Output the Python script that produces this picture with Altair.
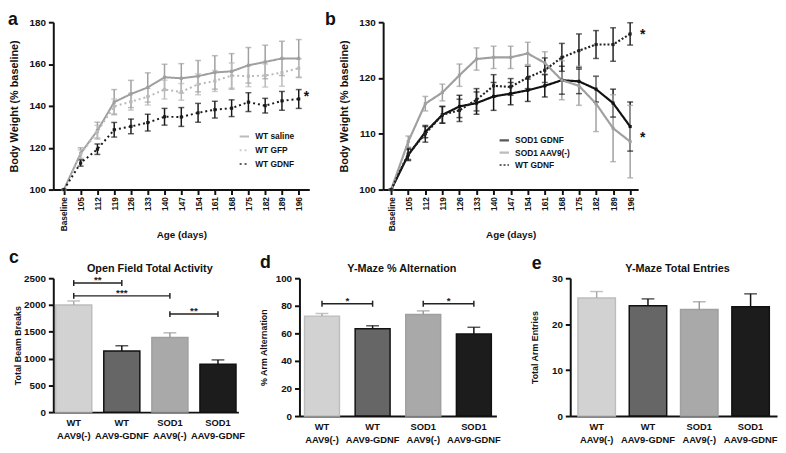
import altair as alt
import pandas as pd

FONT = "Liberation Sans"

# ---------------- data ----------------
ages = ["Baseline", "105", "112", "119", "126", "133", "140", "147",
        "154", "161", "168", "175", "182", "189", "196"]

# panel a
a_names = ["WT saline", "WT GFP", "WT GDNF"]
a_saline = [100, 117.3, 128.2, 141.8, 145.7, 148.8, 153.7, 153.2, 154.2, 156.0, 156.5, 159.4, 161.0, 162.7, 162.7]
a_saline_err = [0, 2.7, 4, 6, 6.5, 7, 6.2, 7, 7.5, 8, 8.5, 8.5, 8, 8.2, 9.0]
a_gfp = [100, 117.0, 127.7, 139.8, 142.0, 144.4, 147.8, 146.7, 150.3, 151.9, 154.5, 154.2, 154.5, 155.9, 158.0]
a_gfp_err = [0, 2, 3, 3.5, 4, 4, 4.5, 4, 5, 5, 6, 5, 5.5, 6.5, 4.5]
a_gdnf = [100, 112.7, 119.3, 128.6, 130.2, 132.0, 134.8, 134.7, 136.7, 138.2, 138.9, 141.8, 140.1, 142.4, 143.3]
a_gdnf_err = [0, 1.5, 2.5, 3.5, 3.5, 4, 4, 4.5, 4.5, 4, 4, 4.5, 3.5, 4.5, 4.5]
a_stars = [145.5]

# panel b
b_names = ["SOD1 GDNF", "SOD1 AAV9(-)", "WT GDNF"]
b_sod1_gdnf = [100, 106.2, 110.3, 113.4, 114.9, 115.5, 116.7, 117.2, 117.8, 118.6, 119.6, 119.4, 118.0, 115.5, 111.3]
b_sod1_gdnf_err = [0, 1.0, 1.0, 1.5, 2.0, 2.0, 2.5, 2.0, 2.0, 2.0, 2.5, 2.2, 2.3, 2.5, 4.4]
b_sod1_aav = [100, 108.6, 115.4, 117.4, 120.5, 123.4, 123.7, 123.7, 124.4, 122.7, 119.6, 118.6, 115.4, 111.0, 108.6]
b_sod1_aav_err = [0, 1.0, 1.3, 1.5, 2.0, 2.0, 2.0, 2.0, 2.0, 2.0, 3.5, 3.5, 5.0, 6.0, 6.5]
b_wt_gdnf = [100, 106.4, 110.0, 113.4, 114.2, 116.1, 118.6, 118.4, 120.1, 121.4, 123.7, 124.9, 126.0, 126.0, 127.9]
b_wt_gdnf_err = [0, 1.0, 1.5, 1.5, 2.0, 2.0, 2.0, 1.5, 2.0, 2.2, 2.5, 3.0, 2.5, 3.0, 2.0]
b_stars = [128.2, 109.7]

# bar panels
groups = ["WT AAV9(-)", "WT AAV9-GDNF", "SOD1 AAV9(-)", "SOD1 AAV9-GDNF"]
c_vals = [2000, 1142, 1395, 895]
c_errs = [75, 95, 85, 80]
c_br_from = ["WT AAV9(-)", "WT AAV9(-)", "SOD1 AAV9(-)"]
c_br_to = ["WT AAV9-GDNF", "SOD1 AAV9(-)", "SOD1 AAV9-GDNF"]
c_br_y = [2410, 2170, 1830]
c_br_lbl = ["**", "***", "**"]

d_vals = [72.5, 63.4, 73.7, 59.6]
d_errs = [1.9, 2.1, 2.6, 4.8]
d_br_from = ["WT AAV9(-)", "SOD1 AAV9(-)"]
d_br_to = ["WT AAV9-GDNF", "SOD1 AAV9-GDNF"]
d_br_y = [81.5, 81.5]
d_br_lbl = ["*", "*"]

e_vals = [25.7, 24.0, 23.2, 23.8]
e_errs = [1.4, 1.5, 1.7, 2.8]

# ---------------- styles ----------------
bar_fill = ["#d2d2d2", "#666666", "#a9a9a9", "#1c1c1c"]
bar_stroke = ["#bdbdbd", "#111111", "#a0a0a0", "#111111"]
err_col = ["#aaaaaa", "#111111", "#999999", "#111111"]
INK = "#111111"


def line_panel(series, means, errs, colors, dashes, widths, ydom, yticks,
               w, h, pad, lx, ly, rowpad, stars, star_dx, letter, lpos):
    rows = []
    for name, m, e in zip(series, means, errs):
        for age, v, er in zip(ages, m, e):
            rows.append({"age": age, "series": name, "mean": v,
                         "lo": v - er, "hi": v + er})
    df = pd.DataFrame(rows)
    xaxis = alt.Axis(title="Age (days)", labelAngle=-90, labelFontSize=8.5,
                     labelPadding=2, titleY=41, titleFontSize=10)
    x = alt.X("age:O", sort=ages, scale=alt.Scale(type="point", padding=pad), axis=xaxis)
    yaxis = alt.Axis(values=yticks, title="Body Weight (% baseline)", format="d",
                     titleX=-34, titleFontSize=11, labelFontSize=10, labelPadding=3)
    yscale = alt.Scale(domain=ydom, nice=False, zero=False)
    leg = alt.Legend(orient="none", legendX=lx, legendY=ly, title=None,
                     symbolType="stroke", symbolSize=90, symbolStrokeWidth=2,
                     labelFontSize=8.5, labelFontWeight="bold", rowPadding=rowpad,
                     labelOffset=5, labelColor=INK)
    cscale = alt.Scale(domain=series, range=colors)
    col = alt.Color("series:N", scale=cscale, legend=leg)
    dash = alt.StrokeDash("series:N", scale=alt.Scale(domain=series, range=dashes), legend=leg)
    sw = alt.StrokeWidth("series:N", scale=alt.Scale(domain=series, range=widths), legend=None)
    base = alt.Chart(df)
    errbar = base.mark_rule(strokeWidth=1.5).encode(
        x=x, y=alt.Y("lo:Q", scale=yscale, axis=yaxis), y2="hi:Q", color=col)
    cap_lo = base.mark_tick(size=6, thickness=1.5).encode(
        x=x, y=alt.Y("lo:Q", scale=yscale, axis=yaxis), color=col)
    cap_hi = base.mark_tick(size=6, thickness=1.5).encode(
        x=x, y=alt.Y("hi:Q", scale=yscale, axis=yaxis), color=col)
    line = base.mark_line().encode(
        x=x, y=alt.Y("mean:Q", scale=yscale, axis=yaxis), color=col,
        strokeDash=dash, strokeWidth=sw)
    pts = base.mark_point(filled=True, shape="square", size=10, opacity=1).encode(
        x=x, y=alt.Y("mean:Q", scale=yscale, axis=yaxis), color=col)
    sdf = pd.DataFrame({"age": ["196"] * len(stars), "v": stars, "t": ["*"] * len(stars)})
    star = alt.Chart(sdf).mark_text(align="left", dx=star_dx, dy=3, fontSize=14,
                                    fontWeight="bold", color=INK).encode(
        x=x, y=alt.Y("v:Q", scale=yscale, axis=yaxis), text="t:N")
    let = alt.Chart(pd.DataFrame({"t": [letter]})).mark_text(
        align="left", baseline="alphabetic", fontSize=18, fontWeight="bold",
        color=INK).encode(x=alt.value(lpos[0]), y=alt.value(lpos[1]), text="t:N")
    return alt.layer(errbar, cap_lo, cap_hi, line, pts, star, let).properties(width=w, height=h)


def bar_panel(vals, errs, ydom, yticks, ytitle, title, w, h, pin, pout,
              br_from, br_to, br_y, br_lbl, letter, lpos):
    df = pd.DataFrame({"cat": groups, "v": vals,
                       "hi": [v + e for v, e in zip(vals, errs)]})
    xscale = alt.Scale(domain=groups, paddingInner=pin, paddingOuter=pout)
    xaxis = alt.Axis(title=None, labelAngle=0, ticks=False,
                     labelExpr="split(datum.value, ' ')",
                     labelFontSize=9.5, labelLineHeight=12.5, labelPadding=6)
    x = alt.X("cat:N", sort=groups, scale=xscale, axis=xaxis)
    yscale = alt.Scale(domain=ydom, nice=False)
    yaxis = alt.Axis(values=yticks, title=ytitle, titleFontSize=9, titleX=-31,
                     format="d", labelFontSize=10, labelPadding=3)
    base = alt.Chart(df)
    bars = base.mark_bar(strokeWidth=1.5).encode(
        x=x, y=alt.Y("v:Q", scale=yscale, axis=yaxis),
        fill=alt.Fill("cat:N", scale=alt.Scale(domain=groups, range=bar_fill), legend=None),
        stroke=alt.Stroke("cat:N", scale=alt.Scale(domain=groups, range=bar_stroke), legend=None))
    ecol = alt.Color("cat:N", scale=alt.Scale(domain=groups, range=err_col), legend=None)
    err = base.mark_rule(strokeWidth=1.5).encode(
        x=x, y=alt.Y("v:Q", scale=yscale, axis=yaxis), y2="hi:Q", color=ecol)
    cap = base.mark_tick(size=13, thickness=1.5).encode(
        x=x, y=alt.Y("hi:Q", scale=yscale, axis=yaxis), color=ecol)
    layers = [bars, err, cap]
    if br_from:
        step = w / (len(groups) - pin + 2 * pout)
        bdf = pd.DataFrame({"f": br_from, "t": br_to, "y": br_y, "lbl": br_lbl})
        span = [(groups.index(t) - groups.index(f)) for f, t in zip(br_from, br_to)]
        bdf["half"] = [s * step / 2 for s in span]
        rng = ydom[1] - ydom[0]
        bdf["ylo"] = bdf["y"] - rng * 0.022
        bdf["yhi"] = bdf["y"] + rng * 0.022
        bb = alt.Chart(bdf)
        hline = bb.mark_rule(strokeWidth=1.5, color="#222222").encode(
            x=alt.X("f:N", sort=groups, scale=xscale, axis=xaxis),
            x2="t:N", y=alt.Y("y:Q", scale=yscale, axis=yaxis))
        end1 = bb.mark_rule(strokeWidth=1.5, color="#222222").encode(
            x=alt.X("f:N", sort=groups, scale=xscale, axis=xaxis),
            y=alt.Y("ylo:Q", scale=yscale, axis=yaxis), y2="yhi:Q")
        end2 = bb.mark_rule(strokeWidth=1.5, color="#222222").encode(
            x=alt.X("t:N", sort=groups, scale=xscale, axis=xaxis),
            y=alt.Y("ylo:Q", scale=yscale, axis=yaxis), y2="yhi:Q")
        layers += [hline, end1, end2]
        for i in range(len(bdf)):
            one = bdf.iloc[[i]]
            lab = alt.Chart(one).mark_text(baseline="alphabetic", dy=0, fontSize=10,
                                           fontWeight="bold", color="#222222",
                                           dx=float(one["half"].iloc[0])).encode(
                x=alt.X("f:N", sort=groups, scale=xscale, axis=xaxis),
                y=alt.Y("y:Q", scale=yscale, axis=yaxis), text="lbl:N")
            layers.append(lab)
    let = alt.Chart(pd.DataFrame({"t": [letter]})).mark_text(
        align="left", baseline="alphabetic", fontSize=18, fontWeight="bold",
        color=INK).encode(x=alt.value(lpos[0]), y=alt.value(lpos[1]), text="t:N")
    ttl = alt.Chart(pd.DataFrame({"t": [title]})).mark_text(
        align="center", baseline="alphabetic", fontSize=11, fontWeight="bold",
        color=INK).encode(x=alt.value(w / 2 + 4), y=alt.value(-6), text="t:N")
    layers += [let, ttl]
    return alt.layer(*layers).properties(width=w, height=h)


pa = line_panel(a_names, [a_saline, a_gfp, a_gdnf], [a_saline_err, a_gfp_err, a_gdnf_err],
                ["#9f9f9f", "#b9b9b9", "#1a1a1a"], [[1, 0], [2, 3], [2, 3]], [2, 2, 2],
                [100, 180], [100, 120, 140, 160, 180], 260, 170, 0.63, 188, 110, 3,
                a_stars, 5, "a", (-46, 3))
pb = line_panel(b_names, [b_sod1_gdnf, b_sod1_aav, b_wt_gdnf],
                [b_sod1_gdnf_err, b_sod1_aav_err, b_wt_gdnf_err],
                ["#111111", "#a0a0a0", "#222222"], [[1, 0], [1, 0], [2, 2]], [2.2, 2.2, 1.3],
                [100, 130], [100, 110, 120, 130], 259, 170, 0.47, 117, 114, 1.5,
                b_stars, 10, "b", (-59, 3))

pc = bar_panel(c_vals, c_errs, [0, 2500], [0, 500, 1000, 1500, 2000, 2500],
               "Total Beam Breaks", "Open Field Total Activity", 188, 136, 0.25, 0.05,
               c_br_from, c_br_to, c_br_y, c_br_lbl, "c", (-45, -15))
pd_ = bar_panel(d_vals, d_errs, [0, 100], [0, 20, 40, 60, 80, 100],
                "% Arm Alternation", "Y-Maze % Alternation", 200, 140, 0.31, 0.1,
                d_br_from, d_br_to, d_br_y, d_br_lbl, "d", (-40, -10))
pe = bar_panel(e_vals, e_errs, [0, 30], [0, 10, 20, 30],
               "Total Arm Entries", "Y-Maze Total Entries", 210, 140, 0.27, 0.15,
               [], [], [], [], "e", (-39, -9))

top = alt.hconcat(pa, pb, spacing=16).resolve_scale(
    color="independent", strokeDash="independent", strokeWidth="independent"
).resolve_legend(color="independent", strokeDash="independent")
bottom = alt.hconcat(alt.hconcat(pc, pd_, spacing=14), pe, spacing=30)

chart = alt.vconcat(top, bottom, spacing=10).resolve_scale(
    color="independent", strokeDash="independent", strokeWidth="independent",
    fill="independent", stroke="independent",
).resolve_legend(color="independent", strokeDash="independent").configure(
    font=FONT, padding={"left": 0, "top": 0, "right": 0, "bottom": 0}).configure_axis(
    domainColor=INK, domainWidth=2, tickColor=INK, tickWidth=2,
    tickSize=5, labelColor=INK, labelFontWeight="bold", labelFontSize=9,
    titleColor=INK, titleFontWeight="bold", titleFontSize=10, grid=False,
).configure_view(stroke=None)

chart.save("out.html", embed_options={"renderer": "svg", "actions": False})
